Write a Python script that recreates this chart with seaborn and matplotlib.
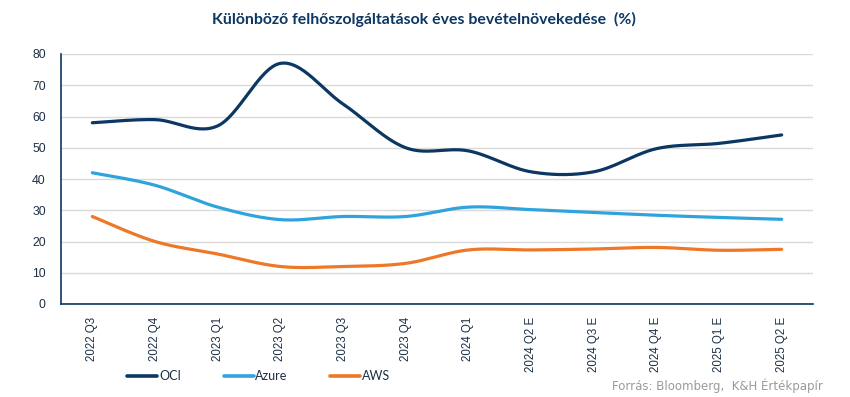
import numpy as np
import pandas as pd
import seaborn as sns
import matplotlib.pyplot as plt
from matplotlib.lines import Line2D

# -----------------------------------------------------------------------------
# Data
# -----------------------------------------------------------------------------
QUARTERS = ["2022 Q3", "2022 Q4", "2023 Q1", "2023 Q2", "2023 Q3", "2023 Q4",
            "2024 Q1", "2024 Q2 E", "2024 Q3 E", "2024 Q4 E", "2025 Q1 E", "2025 Q2 E"]
OCI = [58, 59, 57, 77, 64, 50, 49, 42.3, 42.3, 49.7, 51.4, 54.1]
AZURE = [42, 38, 31, 27, 28, 28, 31, 30.2, 29.3, 28.4, 27.7, 27.1]
AWS = [28, 20, 16, 12, 12, 13, 17.3, 17.3, 17.6, 18.1, 17.2, 17.5]

SERIES = {"OCI": OCI, "Azure": AZURE, "AWS": AWS}
COLORS = {"OCI": "#0c3762", "Azure": "#2fa4dc", "AWS": "#ee7728"}
NAVY = "#0c3762"


def smooth_line(y, steps=30):
    """Excel-like smoothed line: Catmull-Rom segments drawn as cubic Beziers."""
    y = np.asarray(y, dtype=float)
    x = np.arange(len(y), dtype=float)
    px = np.concatenate([[x[0]], x, [x[-1]]])
    py = np.concatenate([[y[0]], y, [y[-1]]])
    xs, ys = [], []
    t = np.linspace(0, 1, steps)
    for i in range(1, len(px) - 2):
        p0 = np.array([px[i], py[i]])
        p3 = np.array([px[i + 1], py[i + 1]])
        c1 = p0 + (np.array([px[i + 1], py[i + 1]]) - np.array([px[i - 1], py[i - 1]])) / 6
        c2 = p3 - (np.array([px[i + 2], py[i + 2]]) - np.array([px[i], py[i]])) / 6
        pts = ((1 - t)[:, None] ** 3 * p0 + 3 * ((1 - t) ** 2 * t)[:, None] * c1
               + 3 * ((1 - t) * t ** 2)[:, None] * c2 + (t ** 3)[:, None] * p3)
        xs.extend(pts[:, 0])
        ys.extend(pts[:, 1])
    return pd.DataFrame({"x": xs, "y": ys})


def main():
    sns.set_style("white")
    plt.rcParams["font.family"] = ["DejaVu Sans"]

    fig = plt.figure(figsize=(8.5, 3.97), dpi=100)
    ax = fig.add_axes([61 / 850, 1 - 304 / 397, (813 - 61) / 850, 250 / 397])

    for name, values in SERIES.items():
        sns.lineplot(data=smooth_line(values), x="x", y="y", sort=False, ax=ax,
                     color=COLORS[name], linewidth=2.3, estimator=None, zorder=3)

    ax.set_xlim(-0.5, len(QUARTERS) - 0.5)
    ax.set_ylim(0, 80)
    ax.set_yticks(range(0, 81, 10))
    ax.set_xticks(range(len(QUARTERS)))
    ax.set_xticklabels(QUARTERS, rotation=90, fontsize=8.3, color="#1b2f45",
                       family="Liberation Sans")
    ax.tick_params(axis="x", length=0, pad=9)
    ax.tick_params(axis="y", length=0, pad=11, labelsize=8.8, labelcolor="#1b2f45")
    for lbl in ax.get_yticklabels():
        lbl.set_family("Liberation Sans")
    ax.set_xlabel("")
    ax.set_ylabel("")

    ax.grid(axis="y", color="#d9d9d9", linewidth=1)
    ax.set_axisbelow(True)
    for side in ["top", "right"]:
        ax.spines[side].set_visible(False)
    for side in ["left", "bottom"]:
        ax.spines[side].set_color(NAVY)
        ax.spines[side].set_linewidth(1.2)

    fig.text(424 / 850, 1 - 19 / 397, "Különböző felhőszolgáltatások éves bevételnövekedése  (%)",
             ha="center", va="center", fontsize=11.4, fontweight="bold", color=NAVY,
             family="Lato")

    handles = [Line2D([], [], color=COLORS[n], linewidth=2.6) for n in SERIES]
    fig.legend(handles, list(SERIES), loc="center left",
               bbox_to_anchor=(116 / 850, 1 - 376 / 397), ncol=3, frameon=False,
               prop={"family": "Lato", "size": 9}, handlelength=2.4,
               handletextpad=0.15, columnspacing=3.4, labelcolor="#1b2f45")

    fig.text(823 / 850, 1 - 386 / 397, "Forrás: Bloomberg,  K&H Értékpapír",
             ha="right", va="center", fontsize=8.5, color="#9a9a9a")

    fig.savefig("out.png", dpi=100)


if __name__ == "__main__":
    main()
